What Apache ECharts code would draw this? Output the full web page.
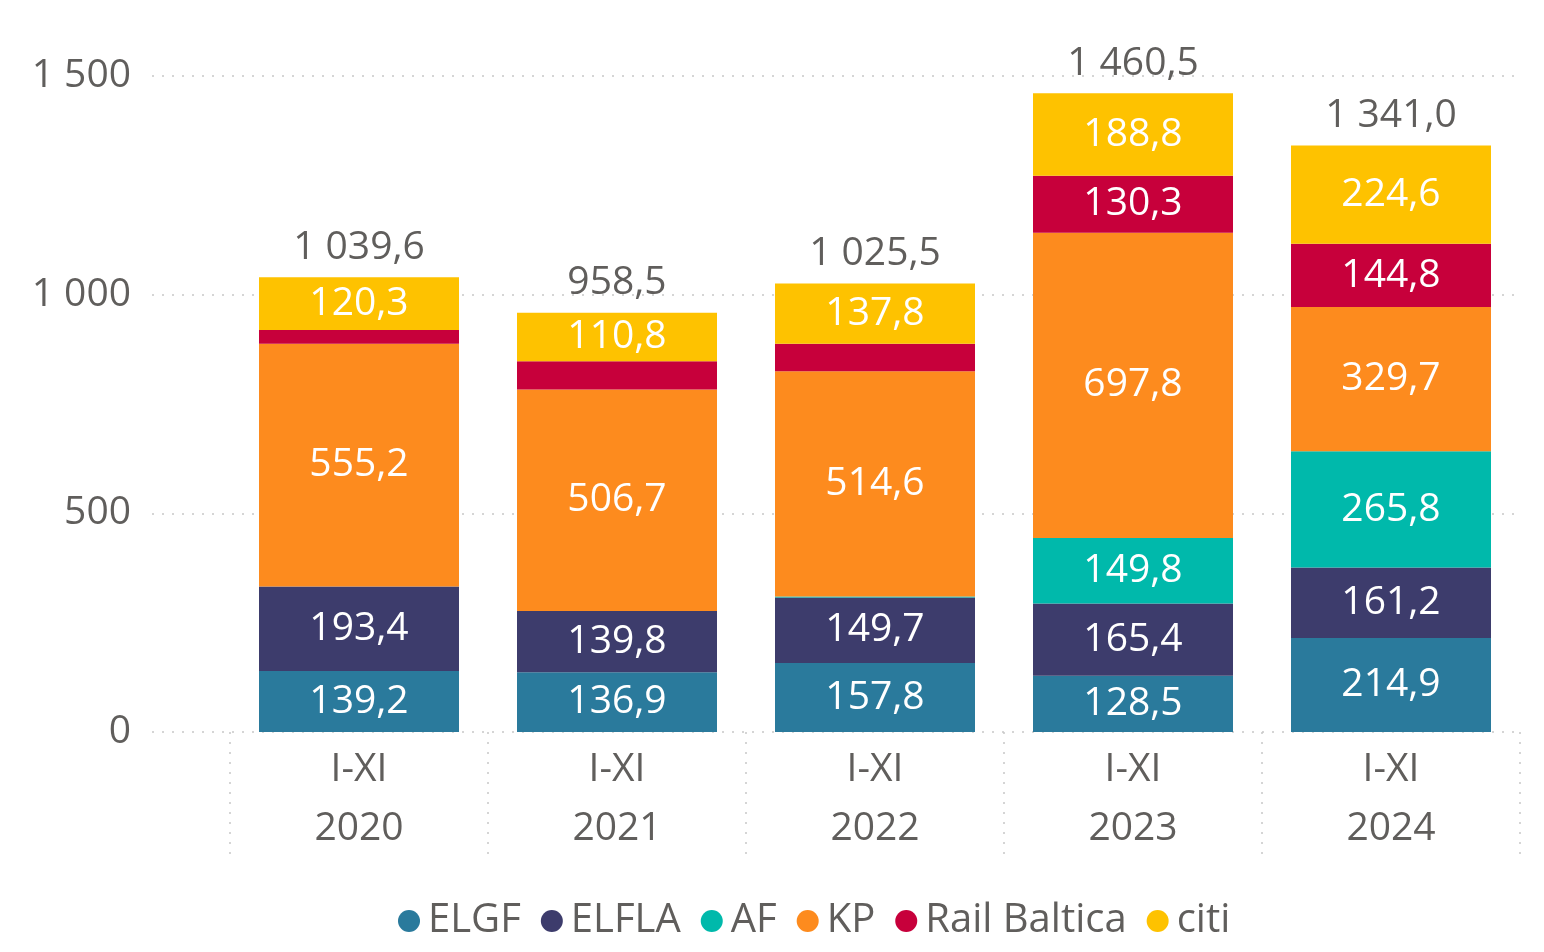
<!DOCTYPE html>
<html>
<head>
<meta charset="utf-8">
<script src="https://cdn.jsdelivr.net/npm/echarts@6/dist/echarts.min.js"></script>
<style>
  html, body { margin: 0; padding: 0; background: #fff; }
  #main { width: 1544px; height: 952px; }
</style>
</head>
<body>
<div id="main"></div>
<script>
const categories = ['I-XI\n2020', 'I-XI\n2021', 'I-XI\n2022', 'I-XI\n2023', 'I-XI\n2024']
const elgf = [139.2, 136.9, 157.8, 128.5, 214.9]
const elfla = [193.4, 139.8, 149.7, 165.4, 161.2]
const af = [0, 0, 2.5, 149.8, 265.8]
const kp = [555.2, 506.7, 514.6, 697.8, 329.7]
const railBaltica = [31.5, 64.3, 63.1, 130.3, 144.8]
const citi = [120.3, 110.8, 137.8, 188.8, 224.6]
const totals = [1039.6, 958.5, 1025.5, 1460.5, 1341.0]
const yTicks = [0, 500, 1000, 1500]

const FONT = '"Open Sans", sans-serif'
const GREY = '#605E5C'
const SIZE = 39

// 1 039,6 style
function fmt (v, dec) {
  const s = v.toFixed(dec)
  const parts = s.split('.')
  parts[0] = parts[0].replace(/\B(?=(\d{3})+(?!\d))/g, ' ')
  return parts.join(',')
}

function barSeries (name, data, color) {
  return {
    name: name,
    type: 'bar',
    stack: 'total',
    barWidth: 200,
    data: data,
    itemStyle: { color: color },
    label: {
      show: true,
      position: 'inside',
      color: '#fff',
      fontFamily: FONT,
      fontSize: SIZE,
      formatter: p => (p.value < 80 ? '' : fmt(p.value, 1))
    }
  }
}

const myChart = echarts.init(document.getElementById('main'))
const option = {
  animation: false,
  textStyle: { fontFamily: FONT },
  grid: [
    { left: 230, right: 24, top: 76, bottom: 220 },
    { left: 152, right: 24, top: 76, bottom: 220 }
  ],
  legend: {
    bottom: 6,
    left: 393,
    icon: 'circle',
    itemWidth: 22,
    itemHeight: 22,
    itemGap: 20,
    textStyle: { color: GREY, fontSize: 40, fontFamily: FONT, padding: [0, 0, 0, 3] },
    data: ['ELGF', 'ELFLA', 'AF', 'KP', 'Rail Baltica', 'citi']
  },
  xAxis: [
    {
      type: 'category',
      gridIndex: 0,
      data: categories,
      axisLine: { show: false },
      axisTick: {
        show: true,
        length: 130,
        lineStyle: { color: '#c8c8c8', type: [2, 8], width: 1.5 }
      },
      axisLabel: {
        color: GREY,
        fontSize: SIZE,
        lineHeight: 59,
        margin: 8,
        fontFamily: FONT
      }
    },
    { type: 'value', gridIndex: 1, min: 0, max: 1, show: false }
  ],
  yAxis: [
    {
      type: 'value',
      gridIndex: 0,
      min: 0,
      max: 1500,
      interval: 500,
      axisLine: { show: false },
      axisTick: { show: false },
      splitLine: { show: false },
      axisLabel: {
        color: GREY,
        fontSize: SIZE,
        margin: 99,
        fontFamily: FONT,
        formatter: v => (yTicks.indexOf(v) >= 0 ? fmt(v, 0) : '')
      }
    },
    {
      type: 'value',
      gridIndex: 1,
      min: 0,
      max: 1500,
      interval: 500,
      axisLine: { show: false },
      axisTick: { show: false },
      axisLabel: { show: false },
      splitLine: { show: true, lineStyle: { color: '#c8c8c8', type: [2, 8], width: 1.5 } }
    }
  ],
  series: [
    barSeries('ELGF', elgf, '#2A7A9C'),
    barSeries('ELFLA', elfla, '#3D3C6C'),
    barSeries('AF', af, '#00B9AB'),
    barSeries('KP', kp, '#FD8B1E'),
    barSeries('Rail Baltica', railBaltica, '#C7003B'),
    barSeries('citi', citi, '#FEC200'),
    {
      name: 'total',
      type: 'scatter',
      data: totals,
      symbolSize: 0,
      itemStyle: { opacity: 1 },
      label: {
        show: true,
        position: 'top',
        distance: 10,
        color: GREY,
        fontSize: SIZE,
        fontFamily: FONT,
        formatter: p => fmt(p.value, 1)
      }
    }
  ]
}
option && myChart.setOption(option)
</script>
</body>
</html>
